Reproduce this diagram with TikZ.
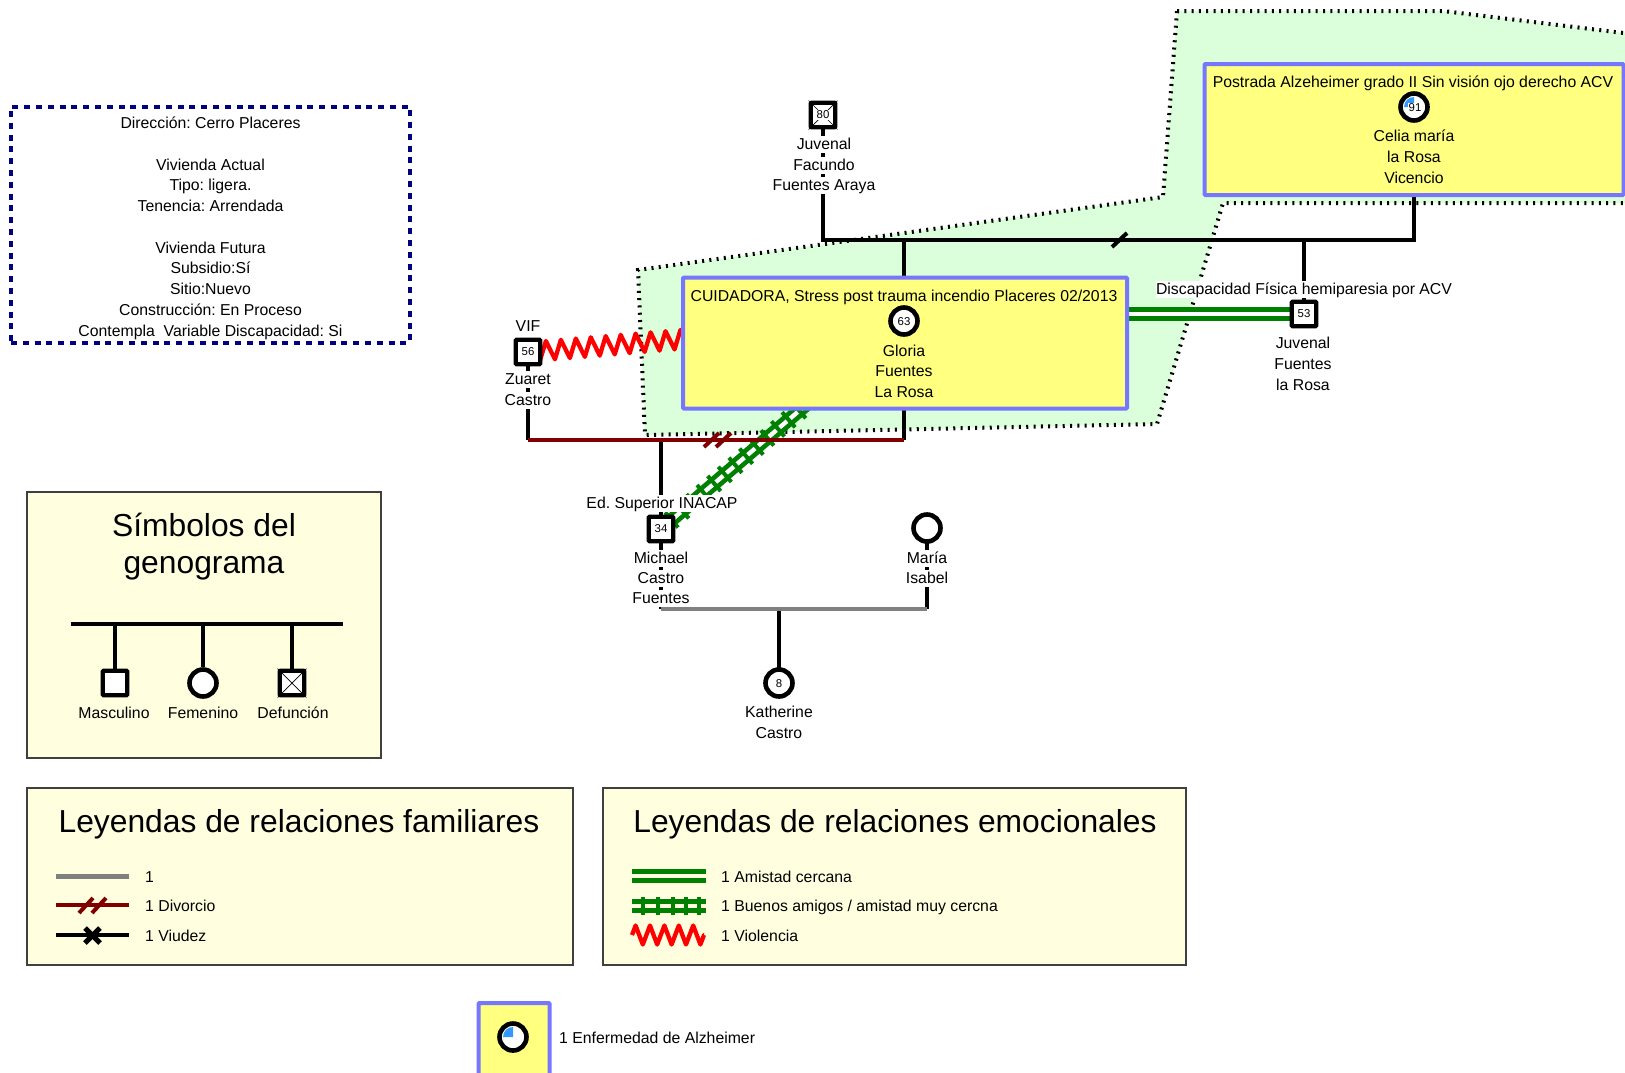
\documentclass[tikz,border=0pt]{standalone}
\usepackage{fontspec}
\setmainfont{Liberation Sans}
\usetikzlibrary{backgrounds,decorations.pathmorphing,decorations.markings}
\definecolor{sickyellow}{RGB}{255,255,128}
\definecolor{sickblue}{RGB}{118,118,255}
\definecolor{zonegreen}{RGB}{219,255,219}
\definecolor{pagreen}{RGB}{0,128,0}
\definecolor{divred}{RGB}{128,0,0}
\definecolor{linegray}{RGB}{128,128,128}
\definecolor{legendfill}{RGB}{255,255,224}
\definecolor{alzblue}{RGB}{51,153,255}
\definecolor{addrblue}{RGB}{0,0,128}
\tikzset{
  txt/.style={font=\fontsize{15.8}{20.75}\selectfont,inner sep=0pt,text height=12.6pt,text depth=4pt,yshift=-1.7pt},
  namelbl/.style={txt,fill=white},
  agelbl/.style={font=\fontsize{11.4}{13}\selectfont,inner sep=0.6pt,fill=white},
  titlelbl/.style={font=\fontsize{31.8}{38}\selectfont,inner sep=0pt},
  personsq/.style={draw=black,line width=4.4pt,fill=white,minimum size=24.5pt,inner sep=0pt,rounded corners=1pt},
  personcirc/.style={draw=black,line width=4.6pt,fill=white,circle,minimum size=27pt,inner sep=0pt},
  sickbox/.style={draw=sickblue,line width=4pt,fill=sickyellow,rounded corners=1pt,inner sep=0pt},
  legendbox/.style={draw=black!75,line width=1.4pt,fill=legendfill,inner sep=0pt},
  kin/.style={draw=black,line width=4pt},
  divorced/.style={draw=divred,line width=4pt},
  couple/.style={draw=linegray,line width=4pt},
  rails/.style={draw=pagreen,line width=4.7pt,double distance=4.3pt,double=#1},
  rails/.default=white,
  ties/.style={decorate,decoration={markings,mark=between positions 14pt and 1 step 14pt with {\draw[pagreen,line width=4pt] (0pt,-10pt) -- (0pt,10pt);}}},
  violence/.style={draw=red,line width=4.3pt,line join=round,decorate,decoration={zigzag,segment length=#1,amplitude=9.5pt}},
  violence/.default=15pt
}
\begin{document}
\frenchspacing
\begin{tikzpicture}[x=1pt,y=-1pt]
\useasboundingbox (0,0) rectangle (1625,1072);
% Sick persons' boxes
\node[sickbox,minimum width=419pt,minimum height=131pt] (celiabox) at (1414,129.5) {};
\node[sickbox,minimum width=444pt,minimum height=131pt] (gloriabox) at (905,343) {};
% People
\node[personcirc] (celia) at (1414,107) {};
\fill[alzblue] (celia.center) -- ++(-10,0) arc[start angle=180,end angle=90,radius=10pt] -- cycle;
\node[agelbl] (celiaage) at (1415,108) {91};
\node[personcirc] (gloria) at (904,321) {};
\node[agelbl] (gloriaage) at (904,322) {63};
\node[personsq] (facundo) at (823,115) {};
\draw[line width=0.7pt] (facundo.north west) -- (facundo.south east);
\draw[line width=0.7pt] (facundo.north east) -- (facundo.south west);
\node[agelbl] (facundoage) at (823,115) {80};
\node[personsq] (zuaret) at (528,352) {};
\node[agelbl] (zuaretage) at (528,352) {56};
\node[personsq] (juvenal) at (1304,314) {};
\node[agelbl] (juvenalage) at (1304,314) {53};
\node[personsq] (michael) at (661,529) {};
\node[agelbl] (michaelage) at (661,529) {34};
\node[personcirc] (maria) at (927,528) {};
\node[personcirc] (katherine) at (779,683) {};
\node[agelbl] (katherineage) at (779,684) {8};
% Names
\node[txt] (celianote) at (1413,81) {Postrada Alzeheimer grado II Sin visión ojo derecho ACV};
\node[txt] (celia1) at (1414,135) {Celia maría};
\node[txt] (celia2) at (1414,156) {la Rosa};
\node[txt] (celia3) at (1414,177) {Vicencio};
\node[txt] (glorianote) at (904,295) {CUIDADORA, Stress post trauma incendio Placeres 02/2013};
\node[txt] (gloria1) at (904,350) {Gloria};
\node[txt] (gloria2) at (904,370) {Fuentes};
\node[txt] (gloria3) at (904,391) {La Rosa};
\node[namelbl] (facundo1) at (824,143) {Juvenal};
\node[namelbl] (facundo2) at (824,164) {Facundo};
\node[namelbl] (facundo3) at (824,184) {Fuentes Araya};
\node[txt] (vif) at (528,325) {VIF};
\node[namelbl] (zuaret1) at (528,378) {Zuaret};
\node[namelbl] (zuaret2) at (528,399) {Castro};
\node[namelbl] (juvenalnote) at (1304,288) {Discapacidad Física hemiparesia por ACV};
\node[namelbl] (juvenal1) at (1303,342) {Juvenal};
\node[namelbl] (juvenal2) at (1303,363) {Fuentes};
\node[namelbl] (juvenal3) at (1303,384) {la Rosa};
\node[namelbl] (michaelnote) at (662,502) {Ed. Superior INACAP};
\node[namelbl] (michael1) at (661,557) {Michael};
\node[namelbl] (michael2) at (661,577) {Castro};
\node[namelbl] (michael3) at (661,597) {Fuentes};
\node[namelbl] (maria1) at (927,557) {María};
\node[namelbl] (maria2) at (927,577) {Isabel};
\node[namelbl] (katherine1) at (779,711) {Katherine};
\node[namelbl] (katherine2) at (779,732) {Castro};
% Coordinates of the bars
\coordinate (topbar) at (823,240);
\coordinate (midbar) at (528,440);
\coordinate (lowbar) at (661,609);
\begin{scope}[on background layer]
% Draw the green zone
\draw[fill=zonegreen,draw=black,line width=4pt,dash pattern=on 2pt off 5.3pt]
  (1177,11) -- (1443,11) -- (1640,35) -- (1640,203) -- (1223,203) -- (1157,424)
  -- (645,435) -- (638,270) -- (1163,197) -- cycle;
% Draw the emotional relations
\draw[rails] (gloriabox.east |- juvenal) -- (juvenal.center);
\draw[rails] (michael.center) -- (gloria.center);
\path[ties] (michael.center) -- (gloria.center);
\draw[violence] (zuaret.center) -- (gloria.center);
% Draw the family lines
\draw[kin] (facundo.center) -- (topbar) -- (topbar -| celia.center) -- (celia.center);
\draw[kin] (gloria.center) -- (gloria |- topbar);
\draw[kin] (juvenal.center) -- (juvenal |- topbar);
\draw[kin] (zuaret.center) -- (midbar);
\draw[kin] (gloria.center) -- (gloria |- midbar);
\draw[kin] (michael.center) -- (michael |- midbar);
\draw[divorced] (midbar) -- (midbar -| gloria.center);
\draw[kin] (michael.center) -- (lowbar);
\draw[kin] (maria.center) -- (maria |- lowbar);
\draw[kin] (katherine.center) -- (katherine |- lowbar);
\draw[couple] (lowbar) -- (lowbar -| maria.center);
\draw[kin] (1112,247) -- (1127,233);
\draw[divorced] (704,447) -- (719,433);
\draw[divorced] (716,447) -- (731,433);
\end{scope}
% Address box
\node[draw=addrblue,line width=4pt,dash pattern=on 6pt off 5.8pt,minimum width=399pt,minimum height=236pt] (addressbox) at (210.5,224.5) {};
\node[inner sep=0pt,align=center,font=\fontsize{15.8}{20.75}\selectfont] (address) at (210.5,228.2) {Dirección: Cerro Placeres\\ \mbox{}\\
  Vivienda Actual\\ Tipo: ligera.\\ Tenencia: Arrendada\\ \mbox{}\\
  Vivienda Futura\\ Subsidio:Sí\\ Sitio:Nuevo\\ Construcción: En Proceso\\ Contempla\ \ Variable Discapacidad: Si};
% Symbols legend
\node[legendbox,minimum width=354pt,minimum height=266pt] (symbolbox) at (204,625) {};
\node[titlelbl] (symboltitle1) at (204,525) {Símbolos del};
\node[titlelbl] (symboltitle2) at (204,568) {genograma};
\coordinate (symbolbar) at (71,624);
\coordinate (symbolend) at (343,624);
\node[personsq] (legmale) at (115,683) {};
\node[personcirc] (legfemale) at (203,683) {};
\node[personsq] (legdead) at (292,683) {};
\draw[line width=0.7pt] (legdead.north west) -- (legdead.south east);
\draw[line width=0.7pt] (legdead.north east) -- (legdead.south west);
\node[txt] (legmaletext) at (114,712) {Masculino};
\node[txt] (legfemaletext) at (203,712) {Femenino};
\node[txt] (legdeadtext) at (293,712) {Defunción};
\draw[kin] (symbolbar) -- (symbolend);
\draw[kin] (legmale.north) -- (legmale |- symbolbar);
\draw[kin] (legfemale.north) -- (legfemale |- symbolbar);
\draw[kin] (legdead.north) -- (legdead |- symbolbar);
% Family relations legend
\node[legendbox,minimum width=546pt,minimum height=177pt] (familybox) at (300,876.5) {};
\node[titlelbl] (familytitle) at (299,824) {Leyendas de relaciones familiares};
\node[txt,anchor=west] (famtext1) at (145,876) {1};
\node[txt,anchor=west] (famtext2) at (145,905) {1 Divorcio};
\node[txt,anchor=west] (famtext3) at (145,935) {1 Viudez};
\coordinate (fam1a) at (56,876); \coordinate (fam1b) at (129,876);
\coordinate (fam2a) at (56,905); \coordinate (fam2b) at (129,905);
\coordinate (fam3a) at (56,935); \coordinate (fam3b) at (129,935);
\draw[couple,line width=5pt] (fam1a) -- (fam1b);
\draw[divorced] (fam2a) -- (fam2b);
\draw[divorced] (79,913) -- (93,898);
\draw[divorced] (92,913) -- (106,898);
\draw[kin] (fam3a) -- (fam3b);
\draw[kin,line width=5pt] (85,928) -- (100,943);
\draw[kin,line width=5pt] (100,928) -- (85,943);
% Emotional relations legend
\node[legendbox,minimum width=583pt,minimum height=177pt] (emotionbox) at (894.5,876.5) {};
\node[titlelbl] (emotiontitle) at (895,824) {Leyendas de relaciones emocionales};
\node[txt,anchor=west] (emotext1) at (721,876) {1 Amistad cercana};
\node[txt,anchor=west] (emotext2) at (721,905) {1 Buenos amigos / amistad muy cercna};
\node[txt,anchor=west] (emotext3) at (721,935) {1 Violencia};
\coordinate (emo1a) at (632,876); \coordinate (emo1b) at (706,876);
\coordinate (emo2a) at (632,906); \coordinate (emo2b) at (706,906);
\coordinate (emo3a) at (632,935); \coordinate (emo3b) at (704,935);
\draw[rails=legendfill] (emo1a) -- (emo1b);
\draw[rails=legendfill] (emo2a) -- (emo2b);
\foreach \tiex in {643,658,673,686,699}
  \draw[pagreen,line width=4pt] (\tiex,897) -- (\tiex,915);
\draw[violence=14.4pt] (emo3a) -- (emo3b);
% Alzheimer legend
\node[sickbox,minimum width=71pt,minimum height=90pt] (alzbox) at (514,1048) {};
\node[personcirc] (alzsym) at (513,1037) {};
\fill[alzblue] (alzsym.center) -- ++(-10,0) arc[start angle=180,end angle=90,radius=10pt] -- cycle;
\node[txt,anchor=west] (alztext) at (559,1037) {1 Enfermedad de Alzheimer};
\end{tikzpicture}
\end{document}
